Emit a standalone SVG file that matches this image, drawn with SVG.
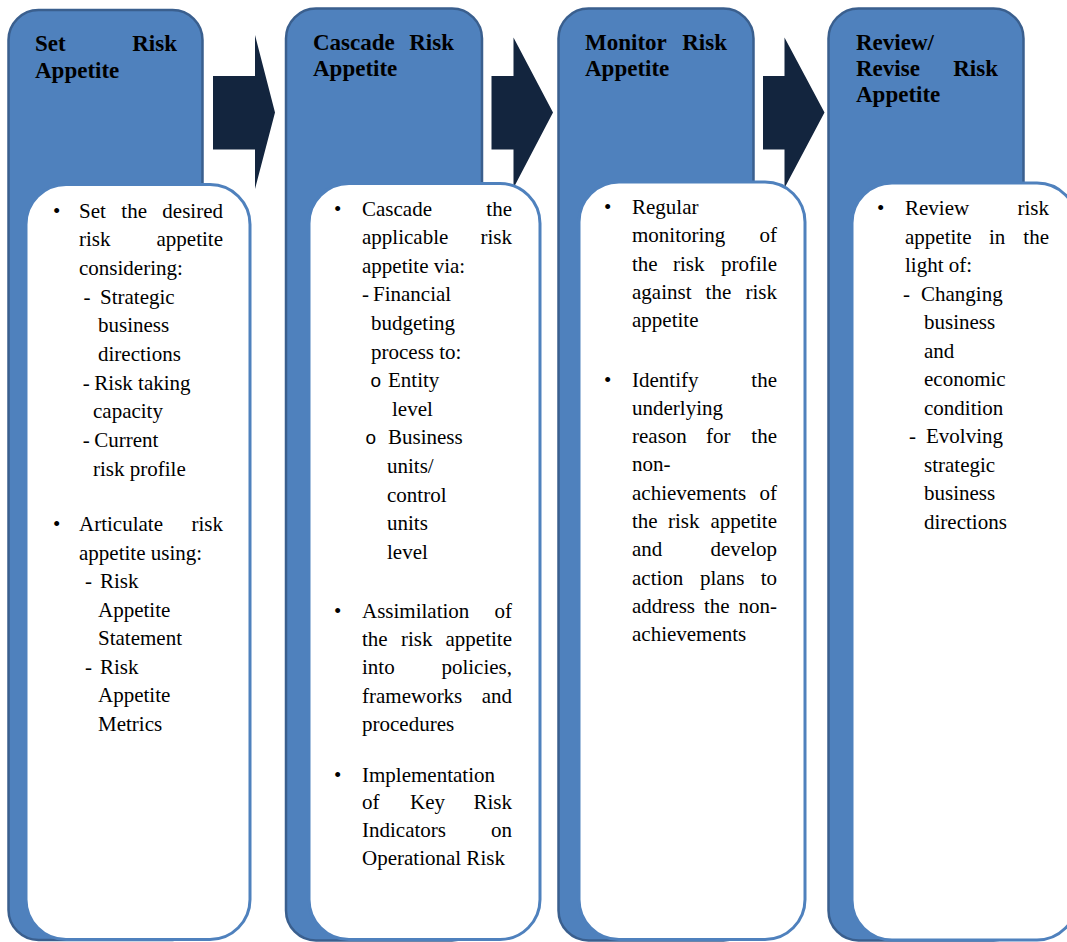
<svg xmlns="http://www.w3.org/2000/svg" width="1067" height="942" viewBox="0 0 1067 942">
<style>
.panel{fill:#4F81BD;stroke:#3A5F8E;stroke-width:2.5}
.card{fill:#FFFFFF;stroke:#4F81BD;stroke-width:3}
.arrow{fill:#13253E}
text{font-family:"Liberation Serif","Times New Roman",serif;fill:#000}
.h{font-size:23px;font-weight:bold}
.b{font-size:21px}
.e{text-anchor:end}
.o{font-family:"Liberation Sans",Arial,sans-serif;font-size:19px}
</style>
<rect width="1067" height="942" fill="#FFFFFF"/>
<g id="connectors">
<polygon class="arrow" points="213,76 255,76 255,35 275,112.5 255,189 255,149.5 213,149.5"/>
<polygon class="arrow" points="491.5,76 513.5,76 513.5,37.5 553,112.5 513.5,188 513.5,149.5 491.5,149.5"/>
<polygon class="arrow" points="763,76 784.5,76 784.5,37.5 824.5,112.5 784.5,188 784.5,149.5 763,149.5"/>
</g>
<g id="node-set">
<rect class="panel" x="8.5" y="10" width="194" height="930" rx="30"/>
<rect class="card" x="26" y="184.5" width="224" height="755" rx="40"/>
<text class="h" x="35" y="51">Set</text>
<text class="h e" x="177" y="51">Risk</text>
<text class="h" x="35" y="77.5">Appetite</text>
<g class="b">
<text x="53" y="217.5">•</text>
<text x="79" y="217.5">Set</text><text x="121.3" y="217.5">the</text><text class="e" x="223" y="217.5">desired</text>
<text x="79" y="246.2">risk</text><text class="e" x="223" y="246.2">appetite</text>
<text x="79" y="274.9">considering:</text>
<text x="83.5" y="303.5">-</text><text x="100" y="303.5">Strategic</text>
<text x="98" y="332.2">business</text>
<text x="98" y="360.9">directions</text>
<text x="82.7" y="389.5">-</text><text x="94.3" y="389.5">Risk taking</text>
<text x="93" y="418.2">capacity</text>
<text x="82.7" y="446.8">-</text><text x="94.3" y="446.8">Current</text>
<text x="93" y="475.5">risk profile</text>
<text x="53" y="531">•</text>
<text x="79" y="531">Articulate</text><text class="e" x="223" y="531">risk</text>
<text x="79" y="559.5">appetite using:</text>
<text x="85" y="588">-</text><text x="100" y="588">Risk</text>
<text x="98" y="616.5">Appetite</text>
<text x="98" y="645">Statement</text>
<text x="85" y="673.5">-</text><text x="100" y="673.5">Risk</text>
<text x="98" y="702">Appetite</text>
<text x="98" y="730.5">Metrics</text>
</g>
</g>
<g id="node-cascade">
<rect class="panel" x="286" y="8.5" width="196" height="932" rx="30"/>
<rect class="card" x="309" y="183.5" width="231" height="756" rx="40"/>
<text class="h" x="313" y="50">Cascade</text>
<text class="h e" x="454" y="50">Risk</text>
<text class="h" x="313" y="75.5">Appetite</text>
<g class="b">
<text x="334" y="215.5">•</text>
<text x="362" y="215.5">Cascade</text><text class="e" x="512" y="215.5">the</text>
<text x="362" y="244.1">applicable</text><text class="e" x="512" y="244.1">risk</text>
<text x="362" y="272.7">appetite via:</text>
<text x="362" y="301.3">-</text><text x="373" y="301.3">Financial</text>
<text x="371" y="329.9">budgeting</text>
<text x="371" y="358.5">process to:</text>
<text class="o" x="370.5" y="387.1">o</text><text x="388" y="387.1">Entity</text>
<text x="392" y="415.7">level</text>
<text class="o" x="365.5" y="444.3">o</text><text x="388" y="444.3">Business</text>
<text x="387" y="472.9">units/</text>
<text x="387" y="501.5">control</text>
<text x="387" y="530.1">units</text>
<text x="387" y="558.7">level</text>
<text x="334" y="617.5">•</text>
<text x="362" y="617.5">Assimilation</text><text class="e" x="512" y="617.5">of</text>
<text x="362" y="646">the</text><text x="401" y="646">risk</text><text class="e" x="512" y="646">appetite</text>
<text x="362" y="674.3">into</text><text class="e" x="512" y="674.3">policies,</text>
<text x="362" y="702.6">frameworks</text><text class="e" x="512" y="702.6">and</text>
<text x="362" y="731">procedures</text>
<text x="334" y="781.5">•</text>
<text x="362" y="781.5">Implementation</text>
<text x="362" y="809.3">of</text><text x="410" y="809.3">Key</text><text class="e" x="512" y="809.3">Risk</text>
<text x="362" y="837.1">Indicators</text><text class="e" x="512" y="837.1">on</text>
<text x="362" y="865">Operational Risk</text>
</g>
</g>
<g id="node-monitor">
<rect class="panel" x="558.5" y="8.5" width="195" height="932" rx="30"/>
<rect class="card" x="579" y="182" width="226" height="757.5" rx="40"/>
<text class="h" x="585" y="50">Monitor</text>
<text class="h e" x="727" y="50">Risk</text>
<text class="h" x="585" y="75.5">Appetite</text>
<g class="b">
<text x="604" y="214">•</text>
<text x="632" y="214">Regular</text>
<text x="632" y="242.3">monitoring</text><text class="e" x="777" y="242.3">of</text>
<text x="632" y="270.6">the</text><text x="673" y="270.6">risk</text><text class="e" x="777" y="270.6">profile</text>
<text x="632" y="298.9">against</text><text x="705.6" y="298.9">the</text><text class="e" x="777" y="298.9">risk</text>
<text x="632" y="327.2">appetite</text>
<text x="604" y="386.5">•</text>
<text x="632" y="386.5">Identify</text><text class="e" x="777" y="386.5">the</text>
<text x="632" y="414.8">underlying</text>
<text x="632" y="443.1">reason</text><text x="706" y="443.1">for</text><text class="e" x="777" y="443.1">the</text>
<text x="632" y="471.4">non-</text>
<text x="632" y="499.7">achievements</text><text class="e" x="777" y="499.7">of</text>
<text x="632" y="528">the</text><text x="668" y="528">risk</text><text class="e" x="777" y="528">appetite</text>
<text x="632" y="556.3">and</text><text class="e" x="777" y="556.3">develop</text>
<text x="632" y="584.6">action</text><text x="700" y="584.6">plans</text><text class="e" x="777" y="584.6">to</text>
<text x="632" y="612.9">address</text><text x="704" y="612.9">the</text><text class="e" x="777" y="612.9">non-</text>
<text x="632" y="641.2">achievements</text>
</g>
</g>
<g id="node-review">
<rect class="panel" x="828.5" y="8.5" width="195" height="932" rx="30"/>
<rect class="card" x="852" y="183" width="225" height="757" rx="40"/>
<text class="h" x="856" y="50">Review/</text>
<text class="h" x="856" y="76">Revise</text>
<text class="h e" x="998" y="76">Risk</text>
<text class="h" x="856" y="102">Appetite</text>
<g class="b">
<text x="877" y="215">•</text>
<text x="905" y="215">Review</text><text class="e" x="1049" y="215">risk</text>
<text x="905" y="243.5">appetite</text><text x="989" y="243.5">in</text><text class="e" x="1049" y="243.5">the</text>
<text x="905" y="272">light of:</text>
<text x="903" y="300.5">-</text><text x="921" y="300.5">Changing</text>
<text x="924" y="329">business</text>
<text x="924" y="357.5">and</text>
<text x="924" y="386">economic</text>
<text x="924" y="414.5">condition</text>
<text x="909" y="443">-</text><text x="926" y="443">Evolving</text>
<text x="924" y="471.5">strategic</text>
<text x="924" y="500">business</text>
<text x="924" y="528.5">directions</text>
</g>
</g>
</svg>
